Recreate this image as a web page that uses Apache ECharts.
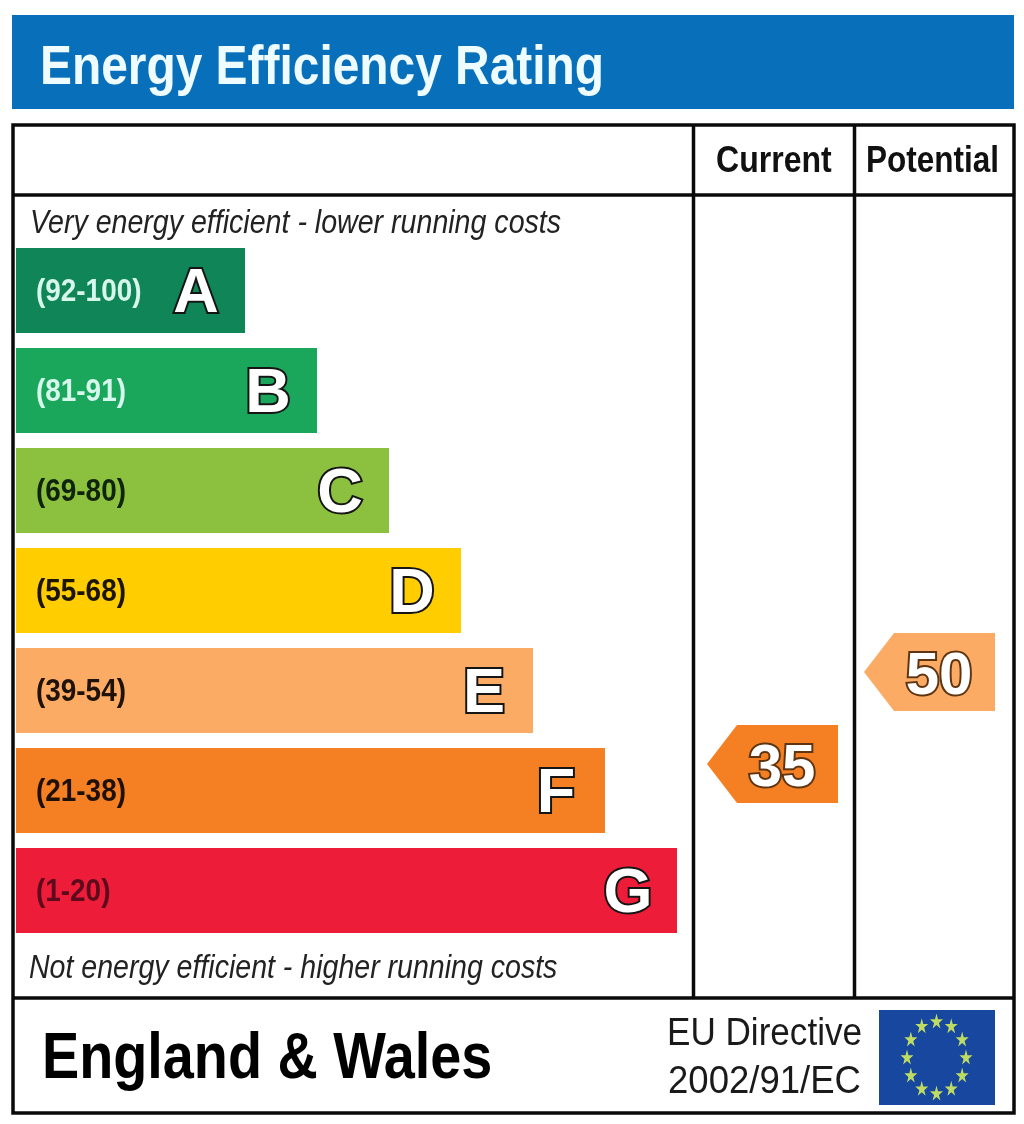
<!DOCTYPE html>
<html>
<head>
<meta charset="utf-8">
<title>Energy Efficiency Rating</title>
<script src="https://cdn.jsdelivr.net/npm/echarts@6/dist/echarts.min.js"></script>
<style>
html,body{margin:0;padding:0;background:#fff;}
#chart{width:1024px;height:1124px;}
</style>
</head>
<body>
<div id="chart"></div>
<script>
// =========================
// DATA
// =========================

const bandLetters = ["A","B","C","D","E","F","G"];
const bandRanges = ["(92-100)","(81-91)","(69-80)","(55-68)","(39-54)","(21-38)","(1-20)"];
const bandLengths = [229,301,373,445,517,589,661];

const ratingColumns = ["Current","Potential"];
const ratingValues = [35,50];

// EU flag ring in flag units
const starX = [0,0.5,0.87,1,0.87,0.5,0,-0.5,-0.87,-1,-0.87,-0.5];
const starY = [1,0.87,0.5,0,-0.5,-0.87,-1,-0.87,-0.5,0,0.5,0.87];

// =========================
// COLOURS
// =========================

const bandColors = ["#0f8558","#1aa75c","#8cc13f","#ffcd00","#fbab64","#f58023","#ed1c38"];
const rangeColors = ["#d8f7ec","#d8f7ec","#10240c","#1c1600","#1f1208","#1f1006","#5c0a1c"];
const ratingColors = ["#f58023","#fbab64"];

const SANS = '"Liberation Sans", Arial, sans-serif';
const STAR = "path://M50 0L61 35H98L68 57L79 91L50 70L21 91L32 57L2 35H39Z";

function label(text,x,y,size,scaleX,extra){

    return {
        type:"text",
        x:x,
        y:y,
        scaleX:scaleX,
        style:Object.assign({
            text:text,
            x:0,
            y:0,
            fill:"#111",
            font:`${size}px ${SANS}`,
            align:"left",
            verticalAlign:"middle"
        },extra||{})
    };

}

function frameLine(x1,y1,x2,y2){

    return {
        type:"line",
        shape:{x1:x1,y1:y1,x2:x2,y2:y2},
        style:{stroke:"#0a0a0a",lineWidth:3.5}
    };

}

const chart = echarts.init(document.getElementById("chart"));

chart.setOption({

    animation:false,
    backgroundColor:"#fff",

    grid:[
        {left:16,top:240.5,width:661,height:700},
        {left:694,top:196,width:314,height:802},
        {left:907,top:1021,width:59,height:72}
    ],

    xAxis:[
        {gridIndex:0,type:"value",min:0,max:661,show:false},
        {gridIndex:1,type:"category",data:ratingColumns,show:false},
        {gridIndex:2,type:"value",min:-1,max:1,show:false}
    ],

    yAxis:[
        {gridIndex:0,type:"category",data:bandLetters,inverse:true,show:false},
        {gridIndex:1,type:"value",min:-3.15,max:127.6,show:false},
        {gridIndex:2,type:"value",min:-1,max:1,show:false}
    ],

    // =========================
    // FRAME AND FIXED TEXT
    // =========================

    graphic:[
        {type:"rect",shape:{x:12,y:15,width:1002,height:94},style:{fill:"#0870bb"}},
        label("Energy Efficiency Rating",40,69,56,0.855,{fill:"#eefcff",font:`bold 56px ${SANS}`}),

        {type:"rect",shape:{x:13,y:125,width:1001,height:988},style:{fill:"none",stroke:"#0a0a0a",lineWidth:3.5}},
        frameLine(13,195,1014,195),
        frameLine(13,998,1014,998),
        frameLine(693.5,125,693.5,998),
        frameLine(854.5,125,854.5,998),

        label("Current",716,162,36,0.89,{font:`bold 36px ${SANS}`}),
        label("Potential",866,162,36,0.875,{font:`bold 36px ${SANS}`}),

        label("Very energy efficient - lower running costs",30,224,33,0.866,{font:`italic 33px ${SANS}`,fill:"#222"}),
        label("Not energy efficient - higher running costs",29,969,33,0.865,{font:`italic 33px ${SANS}`,fill:"#222"}),

        label("England & Wales",42,1060,65,0.858,{font:`bold 65px ${SANS}`,fill:"#000"}),
        label("EU Directive",667,1034,39,0.9,{fill:"#1a1a1a"}),
        label("2002/91/EC",668,1082,39,0.937,{fill:"#1a1a1a"}),

        {type:"rect",shape:{x:879,y:1010,width:116,height:95},style:{fill:"#17479e"}}
    ],

    series:[

        // =========================
        // RATING BANDS
        // =========================

        {
            type:"bar",
            xAxisIndex:0,
            yAxisIndex:0,
            barWidth:85,
            data:bandLengths.map((v,i)=>({value:v,itemStyle:{color:bandColors[i]}})),
            label:{
                show:true,
                formatter:"{b}",
                position:["100%","50%"],
                offset:[-49,4],
                align:"center",
                verticalAlign:"middle",
                color:"#fff",
                fontFamily:SANS,
                fontWeight:"bold",
                fontSize:63,
                textBorderColor:"#151515",
                textBorderWidth:4
            }
        },

        // band ranges, narrowed like the rest of the lettering
        {
            type:"custom",
            xAxisIndex:0,
            yAxisIndex:0,
            z:3,
            encode:{x:0,y:1},
            data:bandRanges.map((r,i)=>[0,i]),
            renderItem:function(params,api){

                const c = api.coord([api.value(0),api.value(1)]);

                return {
                    type:"text",
                    x:c[0]+20,
                    y:c[1]+2,
                    scaleX:0.9,
                    style:{
                        text:bandRanges[params.dataIndex],
                        x:0,
                        y:0,
                        fill:rangeColors[params.dataIndex],
                        font:`bold 31px ${SANS}`,
                        align:"left",
                        verticalAlign:"middle"
                    }
                };

            }
        },

        // =========================
        // CURRENT / POTENTIAL ARROWS
        // =========================

        {
            type:"custom",
            xAxisIndex:1,
            yAxisIndex:1,
            clip:false,
            z:4,
            encode:{x:0,y:1},
            data:ratingValues.map((v,i)=>[i,v]),
            renderItem:function(params,api){

                const c = api.coord([api.value(0),api.value(1)]);
                const color = ratingColors[params.dataIndex];

                return {
                    type:"group",
                    children:[
                        {
                            type:"polygon",
                            shape:{points:[
                                [c[0]-65.5,c[1]],
                                [c[0]-35.5,c[1]-39],
                                [c[0]+65.5,c[1]-39],
                                [c[0]+65.5,c[1]+39],
                                [c[0]-35.5,c[1]+39]
                            ]},
                            style:{fill:color}
                        },
                        {
                            type:"text",
                            style:{
                                text:String(api.value(1)),
                                x:c[0]+9.5,
                                y:c[1]+5,
                                fill:"#fff",
                                stroke:"#5e3510",
                                lineWidth:4,
                                font:`bold 60px ${SANS}`,
                                align:"center",
                                verticalAlign:"middle"
                            }
                        }
                    ]
                };

            }
        },

        // =========================
        // EU FLAG STARS
        // =========================

        {
            type:"scatter",
            xAxisIndex:2,
            yAxisIndex:2,
            clip:false,
            symbol:STAR,
            symbolSize:[13,15],
            itemStyle:{color:"#bfdc62",opacity:1},
            data:starX.map((x,i)=>[x,starY[i]])
        }

    ]

});
</script>
</body>
</html>
